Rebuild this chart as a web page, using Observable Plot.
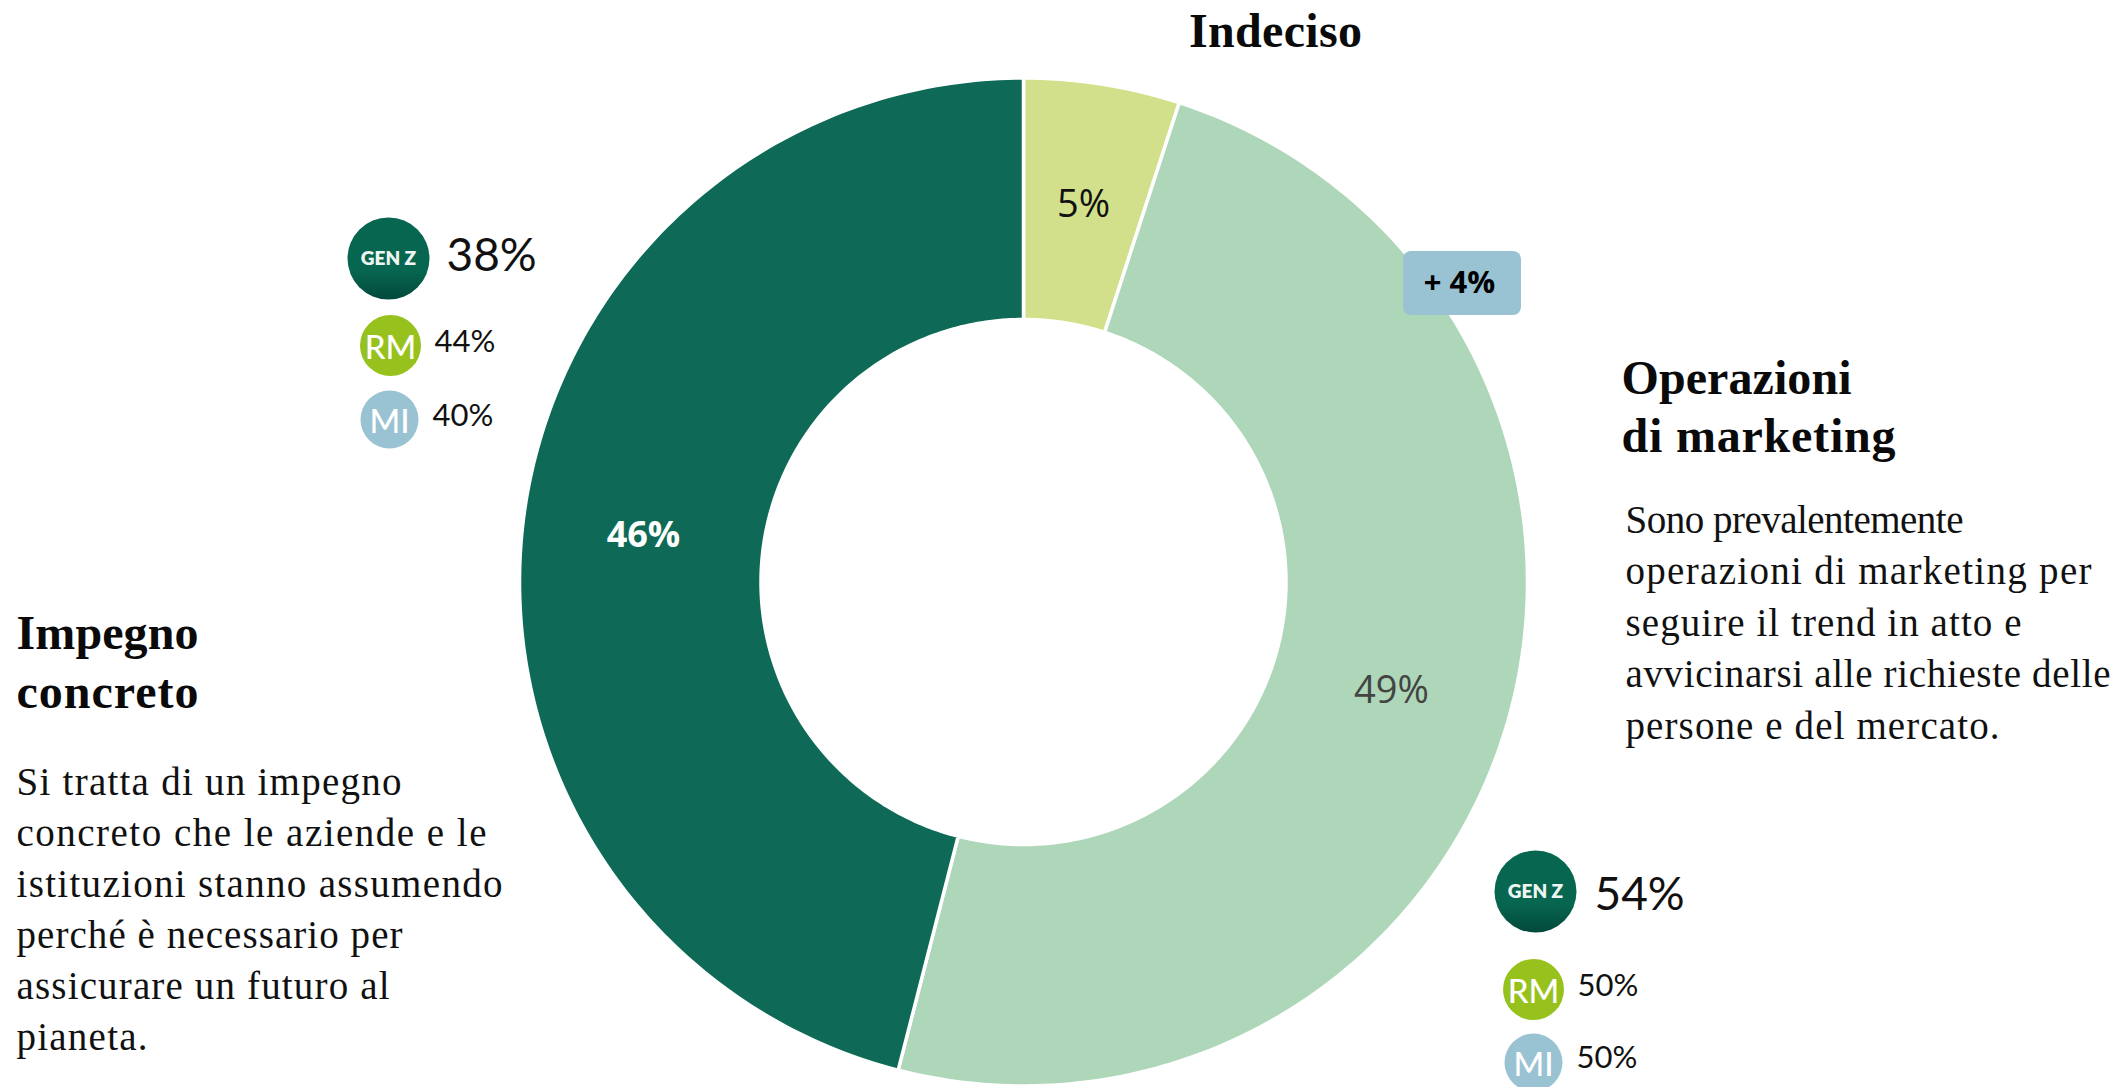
<!DOCTYPE html>
<html lang="it">
<head>
<meta charset="utf-8">
<style>html,body{margin:0;padding:0;background:#fff}svg{display:block}</style>
<script src="https://cdn.jsdelivr.net/npm/d3@7"></script>
<script src="https://cdn.jsdelivr.net/npm/@observablehq/plot@0.6"></script>
</head>
<body>
<div id="chart"></div>
<script>
// Data
const categories = ["Indeciso", "Operazioni di marketing", "Impegno concreto"];
const shares = [5, 49, 46];
const shareLabels = ["5%", "49%", "46%"];
const sliceColors = ["#d2e08b", "#aed6b8", "#0e6a56"];
const leftBadgeValues = ["38%", "44%", "40%"];
const rightBadgeValues = ["54%", "50%", "50%"];
const badgeNames = ["GEN Z", "RM", "MI"];
const deltaLabel = "+ 4%";
const titleIndeciso = "Indeciso";
const titleMarketing = ["Operazioni", "di marketing"];
const bodyMarketing = ["Sono prevalentemente", "operazioni di marketing per", "seguire il trend in atto e", "avvicinarsi alle richieste delle", "persone e del mercato."];
const titleImpegno = ["Impegno", "concreto"];
const bodyImpegno = ["Si tratta di un impegno", "concreto che le aziende e le", "istituzioni stanno assumendo", "perché è necessario per", "assicurare un futuro al", "pianeta."];

// Layout
const W = 2118, H = 1087, cx = 1023, cy = 581.5, R0 = 504, R1 = 262.5;
const serif = "'Liberation Serif', serif", sans = "'Open Sans', sans-serif", round = "Lato, sans-serif";
// Rendered line widths in pixels, measured on the reference
const lineWidths = new Map([
  [titleIndeciso, 173],
  [titleMarketing[0], 230], [titleMarketing[1], 274],
  [bodyMarketing[0], 338], [bodyMarketing[1], 466], [bodyMarketing[2], 396], [bodyMarketing[3], 485], [bodyMarketing[4], 374],
  [titleImpegno[0], 182], [titleImpegno[1], 182],
  [bodyImpegno[0], 385], [bodyImpegno[1], 470], [bodyImpegno[2], 486], [bodyImpegno[3], 386], [bodyImpegno[4], 373], [bodyImpegno[5], 131]
]);

const pie = d3.pie().sort(null)(shares);
const ring = pie.flatMap((p, i) => {
  const n = 180, pts = [];
  const at = (a, r) => ({name: categories[i], x: cx + r * Math.sin(a), y: cy - r * Math.cos(a)});
  for (let k = 0; k <= n; ++k) pts.push(at(p.startAngle + (p.endAngle - p.startAngle) * k / n, R0));
  for (let k = n; k >= 0; --k) pts.push(at(p.startAngle + (p.endAngle - p.startAngle) * k / n, R1));
  return pts;
});

const sliceLabelPos = [
  {x: 1083, y: 204, fill: "#111"},
  {x: 1391, y: 690, fill: "#444"},
  {x: 643, y: 535, fill: "#fff"}
];
const sliceLabelRows = shareLabels.map((t, i) => ({t, ...sliceLabelPos[i]}));

const circleSets = [
  {vals: leftBadgeValues, c: [[388, 258, 41], [390, 345, 30.5], [389, 419, 29]], t: [[446, 256], [434, 342], [432, 416]]},
  {vals: rightBadgeValues, c: [[1535, 891, 41], [1533, 989, 30.5], [1533, 1062, 29]], t: [[1594, 895], [1577, 986], [1576, 1058]]}
];
const circleFills = ["url(#genz)", "#97c21e", "#99c2d3"];
const circleRows = circleSets.flatMap(s => s.c.map((c, i) => ({x: c[0], y: c[1], r: c[2], fill: circleFills[i], name: badgeNames[i], val: s.vals[i], tx: s.t[i][0], ty: s.t[i][1], i})));

const lines = (arr, x, y0, dy) => arr.map((t, i) => ({t, x, y: y0 + i * dy}));
const textOpts = {x: "x", y: "y", text: "t", textAnchor: "start", lineAnchor: "middle", fill: "#111"};

const chart = Plot.plot({
  width: W, height: H, margin: 0,
  style: {background: "#fff"},
  x: {domain: [0, W], range: [0, W], axis: null},
  y: {domain: [0, H], range: [0, H], axis: null},
  r: {type: "identity"},
  color: {domain: categories, range: sliceColors},
  marks: [
    () => {
      const ns = "http://www.w3.org/2000/svg";
      const g = document.createElementNS(ns, "defs");
      g.innerHTML = `<linearGradient id="genz" x1="0" y1="0" x2="0" y2="1"><stop offset="0" stop-color="#07664f"/><stop offset="0.65" stop-color="#07664f"/><stop offset="1" stop-color="#02493b"/></linearGradient>`;
      return g;
    },
    Plot.line(ring, {x: "x", y: "y", z: "name", fill: "name", stroke: "#fff", strokeWidth: 3.5, curve: "linear-closed"}),
    Plot.text(sliceLabelRows.slice(0, 2), {x: "x", y: "y", text: "t", fill: "fill", fontFamily: sans, fontSize: 38, lineAnchor: "middle"}),
    Plot.text(sliceLabelRows.slice(2), {x: "x", y: "y", text: "t", fill: "fill", fontWeight: 700, fontFamily: sans, fontSize: 36, lineAnchor: "middle"}),
    Plot.rect([{x1: 1403, x2: 1521, y1: 251, y2: 315}], {x1: "x1", x2: "x2", y1: "y1", y2: "y2", fill: "#99c2d3", rx: 8}),
    Plot.text([deltaLabel], {x: () => 1459, y: () => 283, text: d => d, fontFamily: sans, fontWeight: 700, fontSize: 31, fill: "#000", lineAnchor: "middle"}),
    Plot.dot(circleRows, {x: "x", y: "y", r: "r", fill: "fill", stroke: null}),
    Plot.text(circleRows.filter(d => d.i === 0), {x: "x", y: "y", text: "name", fill: "#eef5f2", fontFamily: round, fontWeight: 800, fontSize: 19, lineAnchor: "middle"}),
    Plot.text(circleRows.filter(d => d.i > 0), {x: "x", y: d => d.y + 3, text: "name", fill: "#fff", fontFamily: round, fontWeight: 500, fontSize: 33, lineAnchor: "middle"}),
    Plot.text(circleRows.filter(d => d.i === 0), {x: "tx", y: "ty", text: "val", fill: "#111", fontFamily: round, fontSize: 46, textAnchor: "start", lineAnchor: "middle"}),
    Plot.text(circleRows.filter(d => d.i > 0), {x: "tx", y: "ty", text: "val", fill: "#111", fontFamily: round, fontSize: 31, textAnchor: "start", lineAnchor: "middle"}),
    Plot.text(lines([titleIndeciso], 1275, 31, 0), {...textOpts, textAnchor: "middle", fontFamily: serif, fontWeight: 700, fontSize: 48, fill: "#0a0a0a"}),
    Plot.text(lines(titleMarketing, 1621, 378, 58), {...textOpts, fontFamily: serif, fontWeight: 700, fontSize: 48, fill: "#0a0a0a"}),
    Plot.text(lines(bodyMarketing, 1625, 520, 51.4), {...textOpts, fontFamily: serif, fontSize: 39}),
    Plot.text(lines(titleImpegno, 16, 633, 59), {...textOpts, fontFamily: serif, fontWeight: 700, fontSize: 48, fill: "#0a0a0a"}),
    Plot.text(lines(bodyImpegno, 16, 782, 51), {...textOpts, fontFamily: serif, fontSize: 39})
  ]
});
chart.querySelectorAll("text").forEach(t => {
  const w = lineWidths.get(t.textContent);
  if (w) t.setAttribute("textLength", w);
});
document.getElementById("chart").append(chart);
</script>
</body>
</html>
